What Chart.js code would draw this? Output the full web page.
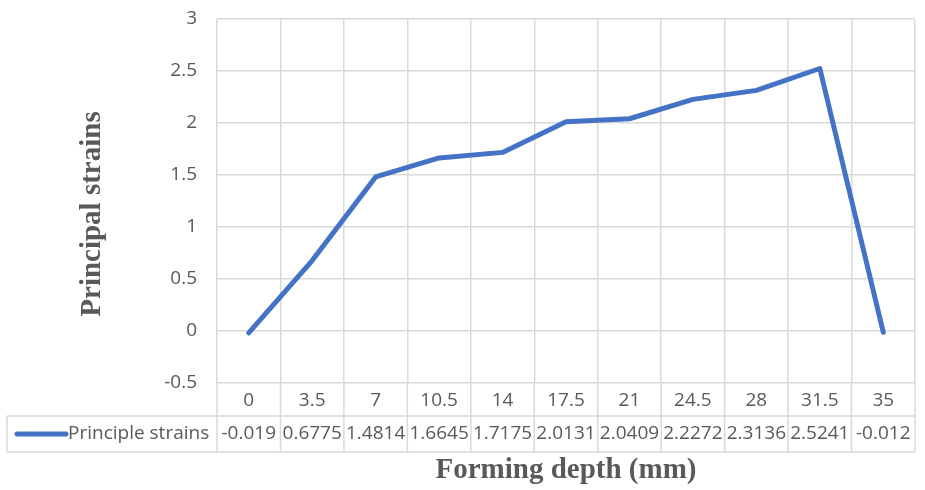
<!DOCTYPE html>
<html>
<head>
<meta charset="utf-8">
<script src="https://cdn.jsdelivr.net/npm/chart.js@4.4.1/dist/chart.umd.min.js"></script>
<style>
  html, body { margin: 0; padding: 0; background: #fff; }
  #wrap { width: 925px; height: 490px; }
</style>
</head>
<body>
<div id="wrap"><canvas id="myChart" width="925" height="490"></canvas></div>
<script>
const depths = ['0', '3.5', '7', '10.5', '14', '17.5', '21', '24.5', '28', '31.5', '35'];
const strains = [-0.019, 0.6775, 1.4814, 1.6645, 1.7175, 2.0131, 2.0409, 2.2272, 2.3136, 2.5241, -0.012];
const seriesName = 'Principle strains';
const yTitle = 'Principal strains';

const blue = '#4472C4';
const gridColor = '#d9d9d9';
const textColor = '#595959';
const tickFont = { family: '"Open Sans"', size: 19 };

// data table under the plot, like excel's "data table with legend keys"
const dataTable = {
    id: 'dataTable',
    afterDraw(chart) {
        const c = chart.ctx;
        const area = chart.chartArea;
        const x = chart.scales.x;
        const n = depths.length;
        const w = (area.right - area.left) / n;
        const rowTop = 416, rowBottom = 452, tableLeft = 7;

        c.save();
        c.strokeStyle = gridColor;
        c.lineWidth = 1.5;
        c.beginPath();
        for (let i = 0; i <= n; i++) {
            const gx = area.left + i * w;
            c.moveTo(gx, area.bottom);
            c.lineTo(gx, rowBottom);
        }
        c.moveTo(tableLeft, rowTop);
        c.lineTo(tableLeft, rowBottom);
        c.moveTo(tableLeft, rowTop);
        c.lineTo(area.right, rowTop);
        c.moveTo(tableLeft, rowBottom);
        c.lineTo(area.right, rowBottom);
        c.stroke();

        // legend key
        const midY = (rowTop + rowBottom) / 2;
        c.strokeStyle = blue;
        c.lineWidth = 5;
        c.lineCap = 'round';
        c.beginPath();
        c.moveTo(17, midY);
        c.lineTo(66, midY);
        c.stroke();

        c.fillStyle = textColor;
        c.font = '19px "Open Sans"';
        c.textBaseline = 'middle';
        c.textAlign = 'left';
        c.fillText(seriesName, 68, midY);

        c.textAlign = 'center';
        strains.forEach((v, i) => {
            c.fillText(String(v), x.getPixelForValue(i), midY);
        });

        // y axis title (excel centres it a little lower than the plot)
        c.translate(93, 214);
        c.rotate(-Math.PI / 2);
        c.font = 'bold 29px "Liberation Serif"';
        c.fillText(yTitle, 0, 0);
        c.restore();
    }
};

const ctx = document.getElementById('myChart').getContext('2d');
const chart = new Chart(ctx, {
    type: 'line',
    data: {
        labels: depths,
        datasets: [{
            label: seriesName,
            data: strains,
            borderColor: blue,
            borderWidth: 5,
            borderCapStyle: 'round',
            borderJoinStyle: 'round',
            pointRadius: 0,
            fill: false,
            tension: 0,
        }],
    },
    options: {
        responsive: false,
        animation: false,
        layout: { padding: { top: 19, right: 10, left: 0, bottom: 0 } },
        plugins: {
            legend: { display: false },
            tooltip: { enabled: false },
        },
        scales: {
            x: {
                offset: true,
                grid: { offset: true, color: gridColor, lineWidth: 1.5, drawTicks: false },
                border: { display: false },
                ticks: { color: textColor, font: tickFont, padding: 6, maxRotation: 0 },
                title: {
                    display: true,
                    text: 'Forming depth (mm)',
                    color: textColor,
                    font: { family: '"Liberation Serif"', size: 29, weight: 'bold' },
                    padding: { top: 0, bottom: 2 },
                },
                afterFit(scale) { scale.height = 107; },
            },
            y: {
                min: -0.5,
                max: 3,
                grid: { color: gridColor, lineWidth: 1.5, drawTicks: false },
                border: { display: false },
                ticks: {
                    stepSize: 0.5, color: textColor, font: tickFont, padding: 20,
                    callback: (v) => String(v),
                },
                afterFit(scale) {
                    scale.width = 217;
                    scale.paddingTop = 0;
                    scale.paddingBottom = 0;
                },
            },
        },
    },
    plugins: [dataTable],
});
</script>
</body>
</html>
